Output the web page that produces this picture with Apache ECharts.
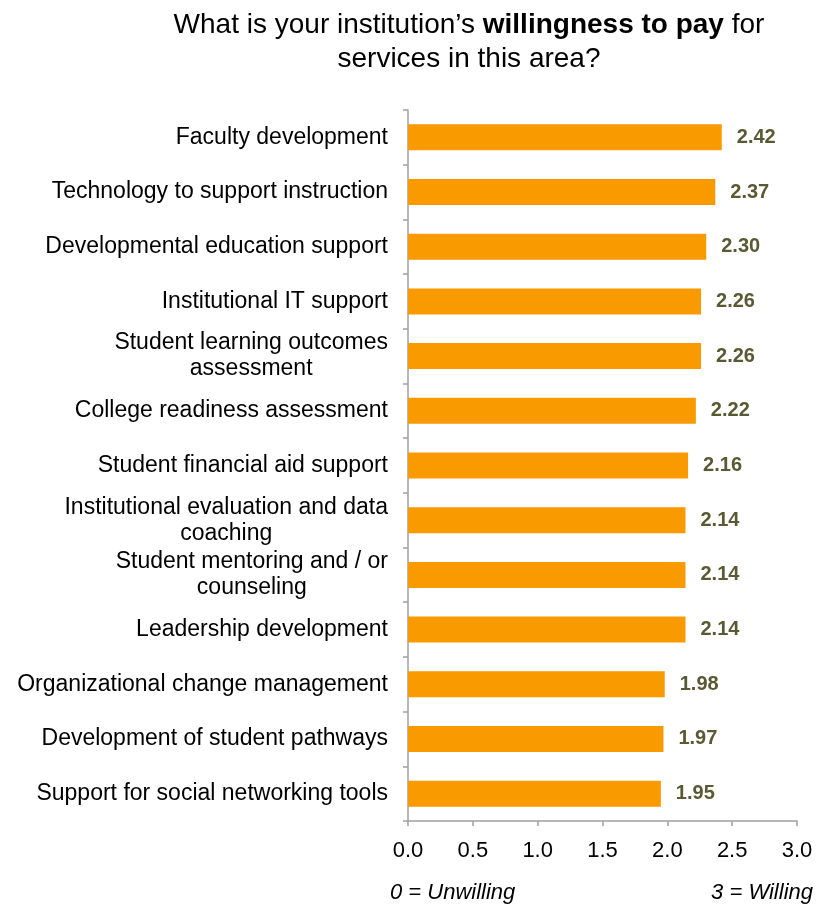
<!DOCTYPE html>
<html><head><meta charset="utf-8">
<script src="https://cdn.jsdelivr.net/npm/echarts@6/dist/echarts.min.js"></script>
<style>html,body{margin:0;padding:0;background:#fff}#c{width:827px;height:907px}</style>
</head><body><div id="c"></div>
<script>
var categories = [
  "Faculty development",
  "Technology to support instruction",
  "Developmental education support",
  "Institutional IT support",
  "Student learning outcomes\nassessment",
  "College readiness assessment",
  "Student financial aid support",
  "Institutional evaluation and data\ncoaching",
  "Student mentoring and / or\ncounseling",
  "Leadership development",
  "Organizational change management",
  "Development of student pathways",
  "Support for social networking tools"
];
var values = [2.42, 2.37, 2.30, 2.26, 2.26, 2.22, 2.16, 2.14, 2.14, 2.14, 1.98, 1.97, 1.95];
var xTicks = [0, 0.5, 1, 1.5, 2, 2.5, 3];

var FONT = '"Liberation Sans", Arial, sans-serif';
var chart = echarts.init(document.getElementById('c'), null, {renderer: 'canvas'});
chart.setOption({
  animation: false,
  backgroundColor: '#fff',
  title: {
    text: "What is your institution\u2019s {b|willingness to pay} for\nservices in this area?",
    left: 464, top: 3, textAlign: 'center',
    textStyle: {
      fontFamily: FONT, fontSize: 28, fontWeight: 'normal', color: '#000', lineHeight: 34,
      rich: { b: { fontFamily: FONT, fontSize: 28, fontWeight: 'bold', color: '#000', lineHeight: 34 } }
    }
  },
  grid: { left: 408, right: 30, top: 110, bottom: 86 },
  xAxis: {
    type: 'value', min: 0, max: 3, interval: 0.5,
    axisLine: { show: true, lineStyle: { color: '#A0A0A0', width: 1.5 } },
    axisTick: { show: true, length: 5, lineStyle: { color: '#A0A0A0', width: 1.5 } },
    splitLine: { show: false },
    axisLabel: {
      margin: 19, fontFamily: FONT, fontSize: 22, color: '#000',
      formatter: function (v) { return v.toFixed(1); }
    }
  },
  yAxis: {
    type: 'category', data: categories, inverse: true,
    axisLine: { show: true, lineStyle: { color: '#A0A0A0', width: 1.5 } },
    axisTick: { show: true, length: 5, lineStyle: { color: '#A0A0A0', width: 1.5 } },
    axisLabel: {
      margin: 20, fontFamily: FONT, fontSize: 23, color: '#000', lineHeight: 26,
      formatter: function (v) {
        return v.split('\n').map(function (s) { return '{m|' + s + '}'; }).join('\n');
      },
      rich: { m: { align: 'center', fontFamily: FONT, fontSize: 23, color: '#000', lineHeight: 26 } }
    }
  },
  series: [{
    type: 'bar', data: values, barWidth: 26,
    itemStyle: { color: '#F99A00' },
    label: {
      show: true, position: 'right', distance: 15,
      fontFamily: FONT, fontSize: 20, fontWeight: 'bold', color: '#595933',
      formatter: function (p) { return p.value.toFixed(2); }
    }
  }],
  graphic: [
    { type: 'text', left: 390, top: 882, style: { text: '0 = Unwilling', font: 'italic 22px ' + FONT, fill: '#000' } },
    { type: 'text', right: 14, top: 882, style: { text: '3 = Willing', font: 'italic 22px ' + FONT, fill: '#000' } }
  ]
});
</script></body></html>
